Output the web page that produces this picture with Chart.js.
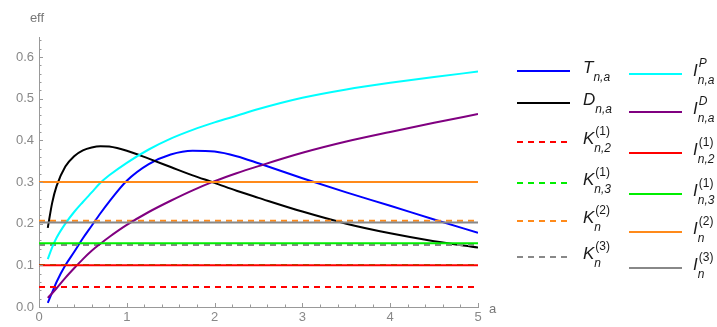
<!DOCTYPE html>
<html>
<head>
<meta charset="utf-8">
<script src="https://cdn.jsdelivr.net/npm/chart.js@4.4.1/dist/chart.umd.min.js"></script>
<style>
html, body { margin: 0; padding: 0; background: #fff; }
#wrap { position: relative; width: 717px; height: 327px; }
#myChart { position: absolute; left: 0; top: 0; }
.item { position: absolute; width: 110px; height: 26px; font-family: "Liberation Sans", Arial, sans-serif; color: #1a1a1a; }
.item svg { position: absolute; left: 0; top: 12px; }
.lab { position: absolute; top: 0; font-style: italic; font-size: 17px; line-height: 20px; white-space: nowrap; }
.sc { display: inline-block; position: relative; width: 28px; height: 20px; vertical-align: top; }
.sp { position: absolute; left: 1px; top: -8px; font-size: 12px; }
.sb { position: absolute; left: 0; top: 9px; font-size: 12px; }
.up { font-style: normal; }
</style>
</head>
<body>
<div id="wrap">
  <canvas id="myChart" width="717" height="327"></canvas>
</div>
<script>
// curves, sampled at xValues
var xValues  = [0.1, 0.15, 0.2, 0.3, 0.4, 0.5, 0.6, 0.7, 0.8, 1.0, 1.25, 1.5, 1.75, 2, 2.25, 2.5, 3, 3.5, 4, 4.5, 5];
var tValues  = [0.01, 0.035, 0.06, 0.10, 0.132, 0.165, 0.195, 0.225, 0.253, 0.303, 0.343, 0.366, 0.375, 0.373, 0.362, 0.345, 0.309, 0.275, 0.243, 0.21, 0.178];
var dValues  = [0.19, 0.25, 0.29, 0.337, 0.362, 0.376, 0.383, 0.386, 0.385, 0.375, 0.356, 0.336, 0.316, 0.298, 0.279, 0.262, 0.229, 0.2, 0.177, 0.158, 0.143];
var ipValues = [0.115, 0.143, 0.166, 0.2, 0.228, 0.252, 0.275, 0.298, 0.316, 0.346, 0.378, 0.404, 0.425, 0.443, 0.459, 0.475, 0.502, 0.522, 0.538, 0.552, 0.565];
var idValues = [0.022, 0.033, 0.045, 0.07, 0.093, 0.115, 0.135, 0.152, 0.168, 0.197, 0.228, 0.255, 0.28, 0.302, 0.321, 0.338, 0.37, 0.397, 0.42, 0.442, 0.463];

// constant levels
var kValues = [0.048, 0.101, 0.207, 0.149];   // K(1)n,2  K(1)n,3  K(2)n  K(3)n
var iValues = [0.1, 0.153, 0.3, 0.203];      // I(1)n,2  I(1)n,3  I(2)n  I(3)n

var yTicks = [0, 0.1, 0.2, 0.3, 0.4, 0.5, 0.6];
var xRange = [0, 5];

// legend text: base letter, superscript, subscript
var legBase = ["T", "D", "K", "K", "K", "K", "I", "I", "I", "I", "I", "I"];
var legSup  = ["", "", "(1)", "(1)", "(2)", "(3)", "P", "D", "(1)", "(1)", "(2)", "(3)"];
var legSub  = ["n,a", "n,a", "n,2", "n,3", "n", "n", "n,a", "n,a", "n,2", "n,3", "n", "n"];
var colors  = ["#0000ff", "#000000", "#ff0000", "#00ee00", "#ff8a1a", "#888888",
               "#00ffff", "#800080", "#ff0000", "#00ee00", "#ff8a1a", "#888888"];

function curve(vals) {
  return xValues.map(function (x, i) { return {x: x, y: vals[i]}; });
}
function level(v) {
  return xRange.map(function (x) { return {x: x, y: v}; });
}

var series = [
  curve(tValues), curve(dValues),
  level(kValues[0]), level(kValues[1]), level(kValues[2]), level(kValues[3]),
  curve(ipValues), curve(idValues),
  level(iValues[0]), level(iValues[1]), level(iValues[2]), level(iValues[3])
];

var datasets = series.map(function (d, i) {
  var dashed = i >= 2 && i <= 5;
  return {
    label: legBase[i] + (legSup[i] ? "^" + legSup[i] : "") + "_" + legSub[i],
    data: d,
    borderColor: colors[i],
    borderWidth: 2,
    borderDash: dashed ? [6, 5] : [],
    pointRadius: 0,
    fill: false,
    cubicInterpolationMode: "monotone",
    order: 20 - i
  };
});

// Mathematica-style ticks pointing into the plot, with minor ticks
var axisTicks = {
  id: "axisTicks",
  afterDraw: function (chart) {
    var ctx = chart.ctx, xs = chart.scales.x, ys = chart.scales.y;
    var left = chart.chartArea.left, bottom = chart.chartArea.bottom;
    ctx.save();
    ctx.strokeStyle = "#999";
    ctx.lineWidth = 1;
    ctx.beginPath();
    for (var i = 0; i <= 32; i++) {
      var py = Math.round(ys.getPixelForValue(i * 0.02)) + 0.5;
      var len = i % 5 === 0 ? 4 : 2.5;
      ctx.moveTo(left, py); ctx.lineTo(left + len, py);
    }
    for (var j = 0; j <= 25; j++) {
      var px = Math.round(xs.getPixelForValue(j * 0.2)) + 0.5;
      var l2 = j % 5 === 0 ? 4 : 2.5;
      ctx.moveTo(px, bottom); ctx.lineTo(px, bottom - l2);
    }
    ctx.stroke();
    ctx.fillStyle = "#777";
    ctx.font = "13px 'Liberation Sans', Arial, sans-serif";
    ctx.textAlign = "center";
    ctx.textBaseline = "middle";
    ctx.fillText("eff", left - 2, 18);
    ctx.textAlign = "left";
    ctx.fillText("a", chart.chartArea.right + 11, bottom + 2);
    ctx.restore();
  }
};

new Chart("myChart", {
  type: "line",
  data: { datasets: datasets },
  options: {
    responsive: false,
    animation: false,
    events: [],
    layout: { padding: { left: 0, right: 239, top: 37, bottom: 0 } },
    plugins: { legend: { display: false }, tooltip: { enabled: false } },
    scales: {
      x: {
        type: "linear",
        min: xRange[0],
        max: xRange[1],
        grid: { display: false, drawTicks: false },
        border: { display: true, color: "#999", width: 1 },
        ticks: { stepSize: 1, color: "#888", padding: 3, maxRotation: 0,
                 font: { family: "'Liberation Sans', Arial, sans-serif", size: 13 } },
        afterFit: function (s) { s.height = 20; }
      },
      y: {
        type: "linear",
        min: 0,
        max: 0.648,
        grid: { display: false, drawTicks: false },
        border: { display: true, color: "#999", width: 1 },
        ticks: { color: "#888", padding: 5,
                 font: { family: "'Liberation Sans', Arial, sans-serif", size: 13 },
                 callback: function (v) { return v.toFixed(1); } },
        afterBuildTicks: function (s) { s.ticks = yTicks.map(function (v) { return {value: v}; }); },
        afterFit: function (s) { s.width = 39; }
      }
    }
  },
  plugins: [axisTicks]
});

// legend, two columns
var legX = [517, 629];
var legY = [[71, 103, 142, 183, 221, 257], [74, 112, 153, 194, 232, 268]];
var legLabelX = [66, 64];
var wrap = document.getElementById("wrap");
for (var k = 0; k < 12; k++) {
  var col = k < 6 ? 0 : 1, row = k % 6;
  var dash = (k >= 2 && k <= 5) ? ' stroke-dasharray="6,5"' : '';
  var item = document.createElement("div");
  item.className = "item";
  item.style.left = legX[col] + "px";
  item.style.top = (legY[col][row] - 13) + "px";
  var sup = legSup[k] ? '<span class="sp' + (legSup[k].charAt(0) === "(" ? ' up' : '') + '">' + legSup[k] + '</span>' : '';
  item.innerHTML =
    '<svg width="53" height="2"><line x1="0" y1="1" x2="53" y2="1" stroke="' + colors[k] + '" stroke-width="2"' + dash + '/></svg>' +
    '<span class="lab" style="left:' + legLabelX[col] + 'px">' + legBase[k] +
    '<span class="sc">' + sup + '<span class="sb">' + legSub[k] + '</span></span></span>';
  wrap.appendChild(item);
}
</script>
</body>
</html>
